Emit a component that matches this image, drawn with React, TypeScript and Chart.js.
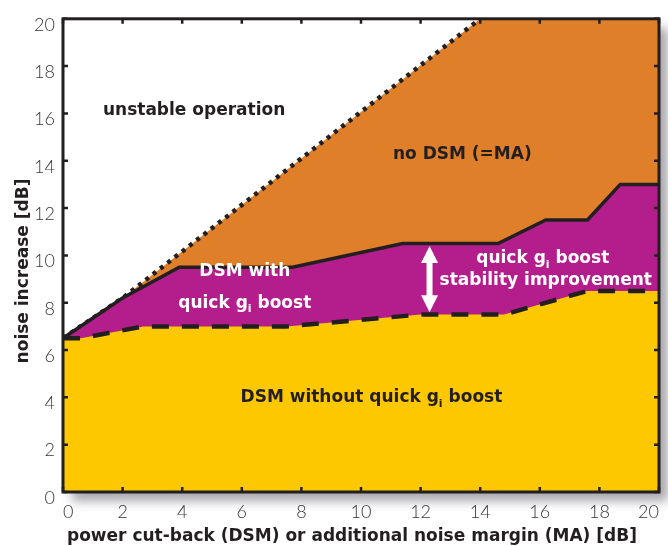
import React, { useEffect, useRef } from "react";
import { Chart, registerables } from "chart.js";
Chart.register(...registerables);

// Stability boundary (no DSM / MA)
const boundaryX = [0, 2, 14, 20];
const boundaryY = [6.5, 8.2, 20, 20];
// DSM with quick gi boost
const quickX = [0, 2, 3.9, 7.7, 11.4, 14.6, 16.2, 17.6, 18.7, 20];
const quickY = [6.5, 8.2, 9.5, 9.5, 10.5, 10.5, 11.5, 11.5, 13, 13];
// DSM without quick gi boost
const noBoostX = [0, 0.6, 2.7, 7.5, 12, 14.8, 17.6, 20];
const noBoostY = [6.5, 6.5, 7.0, 7.0, 7.5, 7.5, 8.5, 8.5];

const xTicks = [0, 2, 4, 6, 8, 10, 12, 14, 16, 18, 20];
const yTicks = [0, 2, 4, 6, 8, 10, 12, 14, 16, 18, 20];

const xTitle = "power cut-back (DSM) or additional noise margin (MA) [dB]";
const yTitle = "noise increase [dB]";

// region labels ("_i" = subscript i)
const labelTexts = [
  "unstable operation",
  "no DSM (=MA)",
  "DSM with",
  "quick g_i boost",
  "quick g_i boost",
  "stability improvement",
  "DSM without quick g_i boost",
];
const labelX = [4.4, 13.4, 6.1, 6.1, 16.1, 16.2, 10.35];
const labelY = [16.2, 14.35, 9.4, 8.05, 9.92, 9.0, 4.05];
const labelDark = [true, true, false, false, false, false, true];

// improvement arrow
const arrowX = 12.3;
const arrowFrom = 7.6;
const arrowTo = 10.4;

const ORANGE = "#e07f2a";
const PURPLE = "#b41e8c";
const YELLOW = "#fdc800";
const INK = "#231f20";

const BOLD = (s: number) => `bold ${s}px "DejaVu Sans", "Open Sans", sans-serif`;

const pts = (xs: number[], ys: number[]) => xs.map((x, i) => ({ x, y: ys[i] }));

function drawRich(ctx: CanvasRenderingContext2D, text: string, cx: number, cy: number, size: number, color: string) {
  const parts = text.split("_i");
  const segs: { t: string; sub: boolean }[] = [];
  parts.forEach((p, i) => {
    segs.push({ t: p, sub: false });
    if (i < parts.length - 1) segs.push({ t: "i", sub: true });
  });
  const subSize = Math.round(size * 0.62);
  let total = 0;
  const widths = segs.map((s) => {
    ctx.font = BOLD(s.sub ? subSize : size);
    const w = ctx.measureText(s.t).width;
    total += w;
    return w;
  });
  let x = cx - total / 2;
  const base = cy + size * 0.36;
  ctx.fillStyle = color;
  ctx.textAlign = "left";
  ctx.textBaseline = "alphabetic";
  segs.forEach((s, i) => {
    ctx.font = BOLD(s.sub ? subSize : size);
    ctx.fillText(s.t, x, s.sub ? base + size * 0.26 : base);
    x += widths[i];
  });
}

const decor = {
  id: "decor",
  beforeDraw(chart: any) {
    const { ctx, chartArea: a } = chart;
    ctx.save();
    ctx.shadowColor = "rgba(60,60,70,0.45)";
    ctx.shadowBlur = 10;
    ctx.shadowOffsetX = 9;
    ctx.shadowOffsetY = 9;
    ctx.fillStyle = "#ffffff";
    ctx.fillRect(a.left, a.top, a.right - a.left, a.bottom - a.top);
    ctx.restore();
  },
  afterDraw(chart: any) {
    const { ctx, chartArea: a, scales } = chart;
    const xs = scales.x;
    const ys = scales.y;
    ctx.save();
    // arrow
    const ax = xs.getPixelForValue(arrowX);
    const y1 = ys.getPixelForValue(arrowFrom);
    const y2 = ys.getPixelForValue(arrowTo);
    const hw = 8.5;
    const hl = 17;
    ctx.fillStyle = "#ffffff";
    ctx.fillRect(ax - 3, y2 + hl - 1, 6, y1 - y2 - 2 * hl + 2);
    ctx.beginPath();
    ctx.moveTo(ax, y2);
    ctx.lineTo(ax - hw, y2 + hl);
    ctx.lineTo(ax + hw, y2 + hl);
    ctx.closePath();
    ctx.fill();
    ctx.beginPath();
    ctx.moveTo(ax, y1);
    ctx.lineTo(ax - hw, y1 - hl);
    ctx.lineTo(ax + hw, y1 - hl);
    ctx.closePath();
    ctx.fill();

    // labels
    labelTexts.forEach((t, i) => {
      drawRich(ctx, t, xs.getPixelForValue(labelX[i]), ys.getPixelForValue(labelY[i]), 17, labelDark[i] ? INK : "#ffffff");
    });

    // frame + inward ticks
    ctx.strokeStyle = INK;
    ctx.lineWidth = 3;
    ctx.strokeRect(a.left, a.top, a.right - a.left, a.bottom - a.top);
    ctx.lineWidth = 2.5;
    const tl = 5;
    xTicks.forEach((v) => {
      const px = xs.getPixelForValue(v);
      ctx.beginPath();
      ctx.moveTo(px, a.bottom);
      ctx.lineTo(px, a.bottom - tl);
      ctx.moveTo(px, a.top);
      ctx.lineTo(px, a.top + tl);
      ctx.stroke();
    });
    yTicks.forEach((v) => {
      const py = ys.getPixelForValue(v);
      ctx.beginPath();
      ctx.moveTo(a.left, py);
      ctx.lineTo(a.left + tl, py);
      ctx.moveTo(a.right, py);
      ctx.lineTo(a.right - tl, py);
      ctx.stroke();
    });

    // axis titles
    ctx.fillStyle = INK;
    ctx.font = BOLD(17);
    ctx.textAlign = "center";
    ctx.textBaseline = "middle";
    ctx.fillText(xTitle, 352, 537);
    ctx.translate(24, 271);
    ctx.rotate(-Math.PI / 2);
    ctx.fillText(yTitle, 0, 0);
    ctx.restore();
  },
};

export default function App() {
  const ref = useRef<HTMLCanvasElement | null>(null);
  useEffect(() => {
    document.body.style.margin = "0";
    const tickFont = { family: 'Lato, "Open Sans", sans-serif', size: 18, weight: 300 as any };
    const chart = new Chart(ref.current!, {
      type: "line",
      data: {
        datasets: [
          {
            data: pts(noBoostX, noBoostY),
            borderColor: INK,
            borderWidth: 4.5,
            borderDash: [17, 13],
            backgroundColor: YELLOW,
            fill: "origin",
            pointRadius: 0,
            tension: 0,
          },
          {
            data: pts(quickX, quickY),
            borderColor: INK,
            borderWidth: 3.5,
            backgroundColor: PURPLE,
            fill: "origin",
            pointRadius: 0,
            tension: 0,
          },
          {
            data: pts(boundaryX.slice(0, 3), boundaryY.slice(0, 3)),
            borderColor: INK,
            borderWidth: 4.5,
            borderDash: [4, 5.2],
            fill: false,
            pointRadius: 0,
            tension: 0,
          },
          {
            data: pts(boundaryX, boundaryY),
            borderWidth: 0,
            borderColor: "rgba(0,0,0,0)",
            backgroundColor: ORANGE,
            fill: "origin",
            pointRadius: 0,
            tension: 0,
          },
        ],
      },
      options: {
        responsive: false,
        animation: false,
        layout: { padding: { top: 18, right: 6, left: 0, bottom: 0 } },
        plugins: { legend: { display: false }, tooltip: { enabled: false } },
        scales: {
          x: {
            type: "linear",
            min: 0,
            max: 20,
            grid: { display: false, drawTicks: false },
            border: { display: false },
            afterBuildTicks: (s: any) => {
              s.ticks = xTicks.map((v) => ({ value: v }));
            },
            afterFit: (s: any) => {
              s.height = 54;
            },
            ticks: {
              font: tickFont,
              color: "#353535",
              padding: 9,
              align: "inner",
              autoSkip: false,
              maxRotation: 0,
              callback: (v: any) => String(v),
            },
          },
          y: {
            type: "linear",
            min: 0,
            max: 20,
            grid: { display: false, drawTicks: false },
            border: { display: false },
            afterBuildTicks: (s: any) => {
              s.ticks = yTicks.map((v) => ({ value: v }));
            },
            afterFit: (s: any) => {
              s.width = 63;
            },
            ticks: {
              font: tickFont,
              color: "#353535",
              padding: 8,
              labelOffset: 6,
              autoSkip: false,
              callback: (v: any) => String(v),
            },
          },
        },
      },
      plugins: [decor],
    });
    return () => chart.destroy();
  }, []);
  return (
    <div style={{ width: 668, height: 546 }}>
      <canvas ref={ref} width={668} height={546} style={{ display: "block", width: 668, height: 546 }} />
    </div>
  );
}
